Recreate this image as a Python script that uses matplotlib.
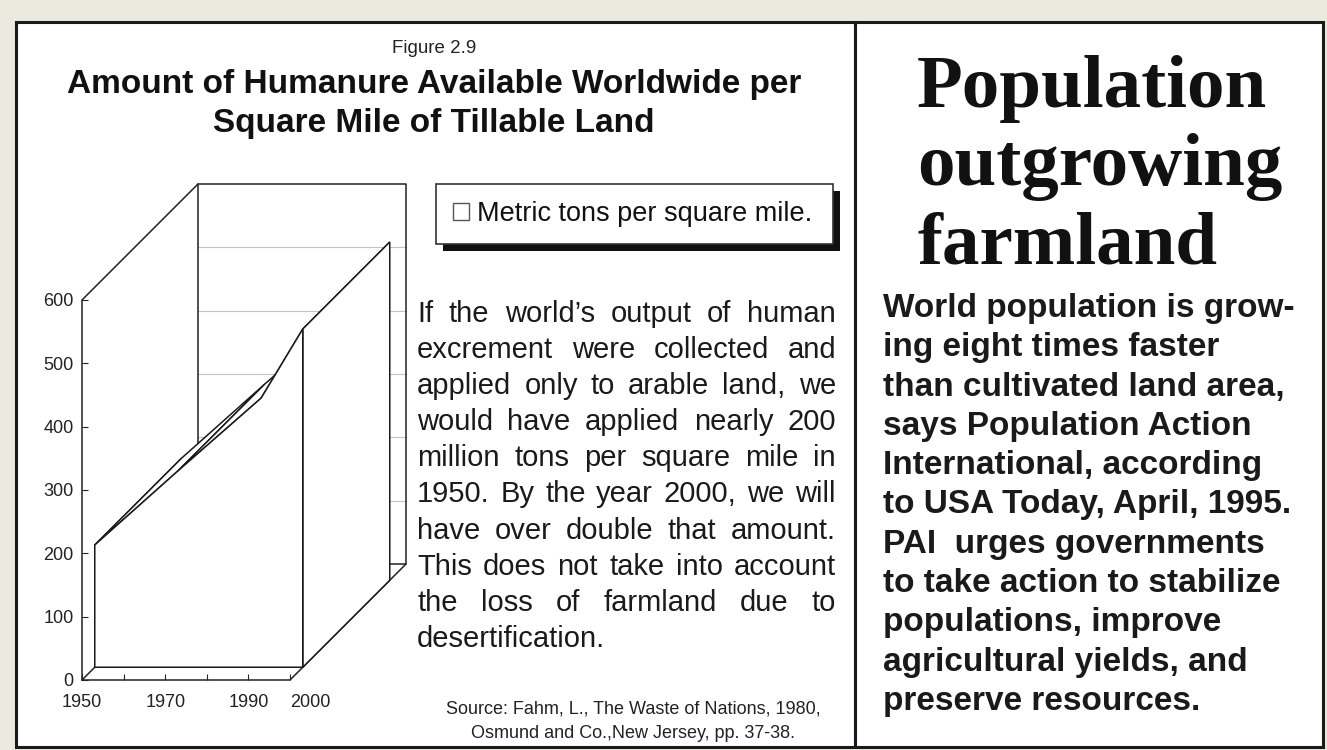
import matplotlib
matplotlib.use("Agg")
import matplotlib.pyplot as plt
from matplotlib.patches import Rectangle, Patch
from matplotlib import patheffects

plt.rcParams['font.family'] = ['Liberation Sans', 'DejaVu Sans']

W, H = 1327, 750

# values, metric tons per square mile
years = [1950, 1970, 1990, 2000]
tons = [193, 310, 425, 534]

ytick_vals = [0, 100, 200, 300, 400, 500, 600]
xtick_vals = [1950, 1960, 1970, 1980, 1990, 2000]
xtick_labels = ["1950", "", "1970", "", "1990", "2000"]

fig_label = "Figure 2.9"
title_lines = ["Amount of Humanure Available Worldwide per",
               "Square Mile of Tillable Land"]
legend_label = "Metric tons per square mile."
body_left = ["If the world\u2019s output of human",
             "excrement were collected and",
             "applied only to arable land, we",
             "would have applied nearly 200",
             "million tons per square mile in",
             "1950. By the year 2000, we will",
             "have over double that amount.",
             "This does not take into account",
             "the loss of farmland due to",
             "desertification."]
source_lines = ["Source: Fahm, L., The Waste of Nations, 1980,",
                "Osmund and Co.,New Jersey, pp. 37-38."]
headline = ["Population", "outgrowing", "farmland"]
body_right = ["World population is grow-",
              "ing eight times faster",
              "than cultivated land area,",
              "says Population Action",
              "International, according",
              "to USA Today, April, 1995.",
              "PAI  urges governments",
              "to take action to stabilize",
              "populations, improve",
              "agricultural yields, and",
              "preserve resources."]


def fx(px):
    return px / W


def fy(py):
    return 1 - py / H


fig = plt.figure(figsize=(W / 100, H / 100), dpi=100)
fig.patch.set_facecolor('#ebeadf')

# the two white panels
for x0, x1 in [(16, 855), (855, 1323)]:
    fig.add_artist(Rectangle((fx(x0), fy(747)), (x1 - x0) / W, (747 - 22) / H,
                             transform=fig.transFigure, facecolor='white',
                             edgecolor='#1a1a1a', lw=2.2, zorder=0))

# ---- pseudo 3d area chart ----
px_year = 208 / 50.0
px_unit = 380 / 600.0
ax = fig.add_axes([fx(82), fy(680), (410 - 82) / W, (680 - 180) / H])
ax.set_xlim(1950, 1950 + (410 - 82) / px_year)
ax.set_ylim(0, (680 - 180) / px_unit)
ax.patch.set_visible(False)
for s in ['top', 'right']:
    ax.spines[s].set_visible(False)
ax.spines['left'].set_bounds(0, ytick_vals[-1])
ax.spines['bottom'].set_bounds(years[0], years[-1])
for s in ['left', 'bottom']:
    ax.spines[s].set_color('#222')
    ax.spines[s].set_linewidth(1.1)

DX = 116 / px_year
DY = 116 / px_unit
x0, x1 = years[0], years[-1]
top = ytick_vals[-1]
box = dict(color='#222', lw=1.1, zorder=1, solid_capstyle='round')

# back wall grid
for v in ytick_vals[1:-1]:
    ax.plot([x0 + DX, x1 + DX], [v + DY, v + DY], color='#c4c4c4', lw=0.8, zorder=0.5)
# back wall, side walls and floor edges
ax.plot([x0 + DX, x0 + DX, x1 + DX, x1 + DX, x0 + DX],
        [DY, top + DY, top + DY, DY, DY], **box)
ax.plot([x0, x0 + DX], [top, top + DY], **box)
ax.plot([x0, x0 + DX], [0, DY], **box)
ax.plot([x1, x1 + DX], [0, DY], **box)

# the series block sits between depth d0 and d1
d0, d1 = 0.11, 0.86
face = dict(facecolor='white', edgecolor='#1a1a1a', lw=1.1)
# left end
ax.fill([x0 + d0 * DX, x0 + d1 * DX, x0 + d1 * DX, x0 + d0 * DX],
        [d0 * DY, d1 * DY, tons[0] + d1 * DY, tons[0] + d0 * DY], zorder=2, **face)
# top strips
for i in range(len(years) - 1):
    xa, xb = years[i], years[i + 1]
    va, vb = tons[i], tons[i + 1]
    ax.fill([xa + d0 * DX, xb + d0 * DX, xb + d1 * DX, xa + d1 * DX],
            [va + d0 * DY, vb + d0 * DY, vb + d1 * DY, va + d1 * DY], zorder=3, **face)
# right end
ax.fill([x1 + d0 * DX, x1 + d1 * DX, x1 + d1 * DX, x1 + d0 * DX],
        [d0 * DY, d1 * DY, tons[-1] + d1 * DY, tons[-1] + d0 * DY], zorder=4, **face)
# front face
fx_ = [y + d0 * DX for y in years] + [x1 + d0 * DX, x0 + d0 * DX]
fy_ = [t + d0 * DY for t in tons] + [d0 * DY, d0 * DY]
ax.fill(fx_, fy_, zorder=5, **face)

ax.set_yticks(ytick_vals)
ax.set_xticks(xtick_vals, xtick_labels)
ax.tick_params(axis='y', direction='in', length=4, width=0.8, pad=6, labelsize=13, colors='#222')
ax.tick_params(axis='x', direction='in', length=4, width=0.8, pad=10, labelsize=13, colors='#222')
ax.get_xticklabels()[-1].set_horizontalalignment('left')

# legend with a hard drop shadow
leg = ax.legend([Patch(facecolor='white', edgecolor='#555', lw=1)], [legend_label],
                loc='upper left', bbox_to_anchor=(fx(436), fy(184), (833 - 436) / W, 0),
                bbox_transform=fig.transFigure, mode='expand', fontsize=19.5,
                frameon=True, fancybox=False, borderpad=0.62, handlelength=0.6,
                handleheight=0.6, handletextpad=0.3, borderaxespad=0)
for t in leg.get_texts():
    t.set_color('#111')
fr = leg.get_frame()
fr.set_edgecolor('#333')
fr.set_linewidth(1.2)
fr.set_alpha(1)
fr.set_path_effects([patheffects.SimplePatchShadow(offset=(5, -5), shadow_rgbFace='#111', alpha=1.0),
                     patheffects.Normal()])

# ---- titles and text, left panel ----
fig.text(fx(434), fy(53), fig_label, ha='center', va='baseline', fontsize=13.5, color='#222')
fig.text(fx(434), fy(93), title_lines[0], ha='center', va='baseline', fontsize=24,
         weight='bold', color='#111')
fig.text(fx(434), fy(132), title_lines[1], ha='center', va='baseline', fontsize=24,
         weight='bold', color='#111')

renderer = fig.canvas.get_renderer()


def justified(lines, xl, xr, y_first, step, size):
    for k, line in enumerate(lines):
        yb = fy(y_first + k * step)
        words = line.split()
        if k == len(lines) - 1 or len(words) == 1:
            fig.text(fx(xl), yb, line, va='baseline', fontsize=size, color='#1a1a1a')
            continue
        arts = [fig.text(0, yb, w, va='baseline', fontsize=size, color='#1a1a1a') for w in words]
        widths = [a.get_window_extent(renderer).width for a in arts]
        gap = (xr - xl - sum(widths)) / (len(words) - 1)
        xpos = xl
        for a, w in zip(arts, widths):
            a.set_x(fx(xpos))
            xpos += w + gap


justified(body_left, 417, 836, 322, 36.1, 21)

for k, line in enumerate(source_lines):
    fig.text(fx(633), fy(713 + k * 25), line, ha='center', va='baseline',
             fontsize=13, color='#222')

# ---- right panel ----
for k, word in enumerate(headline):
    fig.text(fx(917), fy(107 + k * 78), word, va='baseline', fontsize=54,
             family=['Liberation Serif', 'DejaVu Serif'], weight='bold', color='#111')

for k, line in enumerate(body_right):
    fig.text(fx(883), fy(317 + k * 39.3), line, va='baseline', fontsize=24,
             weight='bold', color='#1a1a1a')

fig.savefig('out.png', dpi=100, facecolor=fig.get_facecolor())
